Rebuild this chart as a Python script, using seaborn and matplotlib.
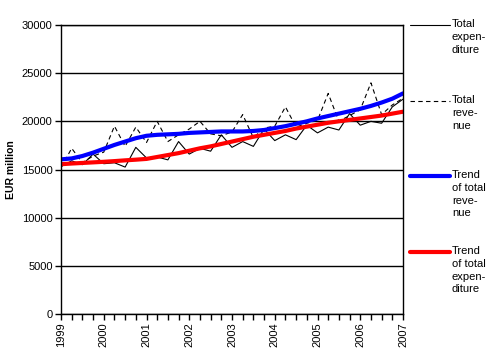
import numpy as np
import pandas as pd
import seaborn as sns
import matplotlib.pyplot as plt
from matplotlib.lines import Line2D
from matplotlib.ticker import MultipleLocator

# quarterly data, EUR million
quarters = [1999 + q / 4 for q in range(33)]
expenditure = [15300, 15900, 15500, 16600,
               15600, 15700, 15250, 17300,
               16200, 16300, 16000, 17900,
               16600, 17200, 16900, 18600,
               17300, 17900, 17400, 19200,
               18000, 18600, 18100, 19600,
               18800, 19400, 19100, 20800,
               19600, 20000, 19800, 21500,
               22300]
revenue = [15200, 17200, 15700, 16400,
           16800, 19500, 17400, 19400,
           17800, 20000, 17900, 18600,
           19200, 20000, 18700, 18500,
           18900, 20700, 18300, 19300,
           19500, 21500, 19400, 19800,
           20100, 22900, 20000, 20600,
           21200, 24000, 20700, 21700,
           22400]
trend_revenue = [16050, 16150, 16400, 16750, 17150, 17550, 17900, 18250,
                 18500, 18600, 18650, 18700, 18800, 18850, 18900, 18950,
                 18950, 18950, 19000, 19100, 19300, 19500, 19750, 20000,
                 20300, 20550, 20800, 21050, 21300, 21600, 21950, 22350,
                 22900]
trend_expenditure = [15550, 15620, 15680, 15740, 15800, 15870, 15950, 16020,
                     16100, 16300, 16500, 16700, 16950, 17200, 17400, 17650,
                     17900, 18150, 18400, 18600, 18800, 19000, 19250, 19450,
                     19650, 19850, 20000, 20150, 20300, 20450, 20600, 20800,
                     21000]

labels = ["Total\nexpen-\nditure", "Total\nreve-\nnue",
          "Trend\nof total\nreve-\nnue", "Trend\nof total\nexpen-\nditure"]

sns.set_style("white")
plt.rcParams['font.family'] = ['Liberation Sans', 'DejaVu Sans']
plt.rcParams.update({'text.color': 'black', 'axes.labelcolor': 'black',
                     'xtick.color': 'black', 'ytick.color': 'black'})

W, H = 492, 353
fig = plt.figure(figsize=(W / 100, H / 100), dpi=100)
ax = fig.add_axes([61 / W, 1 - 314 / H, (403 - 61) / W, (314 - 25) / H])

dash = (0, (4, 3))
sns.lineplot(x=quarters, y=expenditure, color='black', lw=0.8, ax=ax)
sns.lineplot(x=quarters, y=revenue, color='black', lw=0.8, ls=dash, ax=ax)
sns.lineplot(x=quarters, y=trend_revenue, color='#0000ff', lw=3, ax=ax)
sns.lineplot(x=quarters, y=trend_expenditure, color='#ff0000', lw=3, ax=ax)

ax.set_xlim(1999, 2007)
ax.set_ylim(0, 30000)
ax.yaxis.set_major_locator(MultipleLocator(5000))
ax.xaxis.set_major_locator(MultipleLocator(1))
ax.xaxis.set_minor_locator(MultipleLocator(0.25))
ax.set_xticklabels([f"{int(v)}" for v in ax.get_xticks()], rotation=90)
ax.yaxis.grid(True, color='black', lw=1)
ax.set_axisbelow(True)
for s in ax.spines.values():
    s.set_color('black')
    s.set_linewidth(1)
ax.tick_params(axis='both', which='both', direction='out', length=4, width=1,
               color='black', labelcolor='black', labelsize=8, pad=2,
               bottom=True, left=True)
ax.set_ylabel("EUR million", fontsize=7.5, fontweight='bold', labelpad=4)
ax.set_xlabel("")

# legend at the right
styles = [dict(color='black', lw=0.8), dict(color='black', lw=0.8, ls=dash),
          dict(color='#0000ff', lw=3), dict(color='#ff0000', lw=3)]
rows = [25, 101, 176, 252]
for lab, st, yp in zip(labels, styles, rows):
    fig.add_artist(Line2D([410 / W, 450 / W], [1 - yp / H, 1 - yp / H],
                          transform=fig.transFigure, **st))
    fig.text(452 / W, 1 - (yp - 6) / H, lab, fontsize=8, va='top', ha='left',
             linespacing=1.35)

fig.savefig("out.png", dpi=100)
